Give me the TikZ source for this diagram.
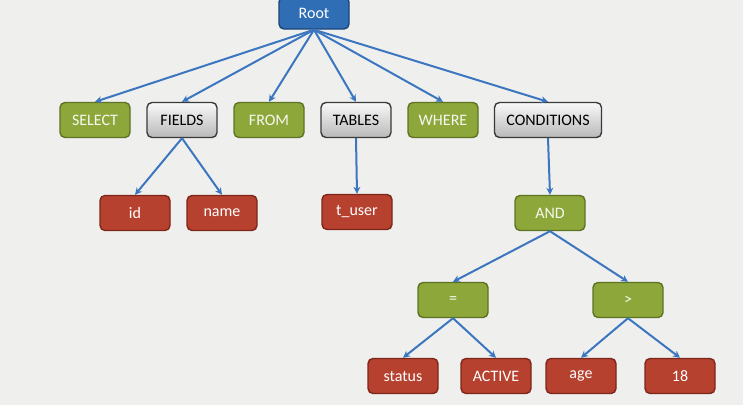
\documentclass[tikz,border=0pt]{standalone}
\usepackage{fontspec}
\setmainfont{Carlito}
\usetikzlibrary{arrows.meta}
\definecolor{bgc}{HTML}{EFF0EE}
\definecolor{grn}{HTML}{8DA73B}
\definecolor{grnb}{HTML}{5E7322}
\definecolor{rd}{HTML}{B6412F}
\definecolor{rdb}{HTML}{7E2619}
\definecolor{bl}{HTML}{2F6DB5}
\definecolor{blb}{HTML}{1C4679}
\definecolor{edge}{HTML}{3C76C0}
\definecolor{grb}{HTML}{3A3A3A}
\tikzset{
  base/.style={rounded corners=5pt, minimum width=70pt, minimum height=35pt, inner sep=2pt, line width=1.4pt, font=\fontsize{16}{18}\selectfont},
  gbox/.style={base, fill=grn, draw=grnb, text=white!92!grn},
  rbox/.style={base, fill=rd, draw=rdb, text=white},
  wbox/.style={base, top color=white!95!gray, bottom color=gray!55, draw=grb, text=black},
  rootbox/.style={base, fill=bl, draw=blb, text=white, minimum height=32pt},
  conn/.style={draw=edge, line width=2pt, -{Stealth[length=7pt,width=7pt]}}
}
\begin{document}
\begin{tikzpicture}[x=1pt,y=-1pt]
\fill[bgc] (0,0) rectangle (743,405);
\useasboundingbox (0,0) rectangle (743,405);
\node[rootbox] (root) at (314,13) {Root};
\node[gbox] (select) at (95,120) {SELECT};
\node[wbox] (fields) at (182,120) {FIELDS};
\node[gbox] (from) at (269,120) {FROM};
\node[wbox] (tables) at (356,120) {TABLES};
\node[gbox] (where) at (443,120) {WHERE};
\node[wbox, minimum width=107pt] (cond) at (548,120) {CONDITIONS};
\node[rbox] (id) at (135,213) {id};
\node[rbox] (name) at (222,213) {name};
\node[rbox] (tuser) at (357,212) {t\_user};
\node[gbox] (and) at (550,213) {AND};
\node[gbox] (eq) at (453,300) {=};
\node[gbox] (gt) at (628,300) {>};
\node[rbox] (status) at (403,376) {status};
\node[rbox] (active) at (496,376) {ACTIVE};
\node[rbox] (age) at (581,376) {age};
\node[rbox] (v18) at (680,376) {18};
\foreach \c in {select,fields,from,tables,where,cond}
  \draw[conn] (root.south) -- (\c.north);
\draw[conn] (fields.south) -- (id.north);
\draw[conn] (fields.south) -- (name.north);
\draw[conn] (tables.south) -- (tuser.north);
\draw[conn] (cond.south) -- (and.north);
\draw[conn] (and.south) -- (eq.north);
\draw[conn] (and.south) -- (gt.north);
\draw[conn] (eq.south) -- (status.north);
\draw[conn] (eq.south) -- (active.north);
\draw[conn] (gt.south) -- (age.north);
\draw[conn] (gt.south) -- (v18.north);
\end{tikzpicture}
\end{document}
